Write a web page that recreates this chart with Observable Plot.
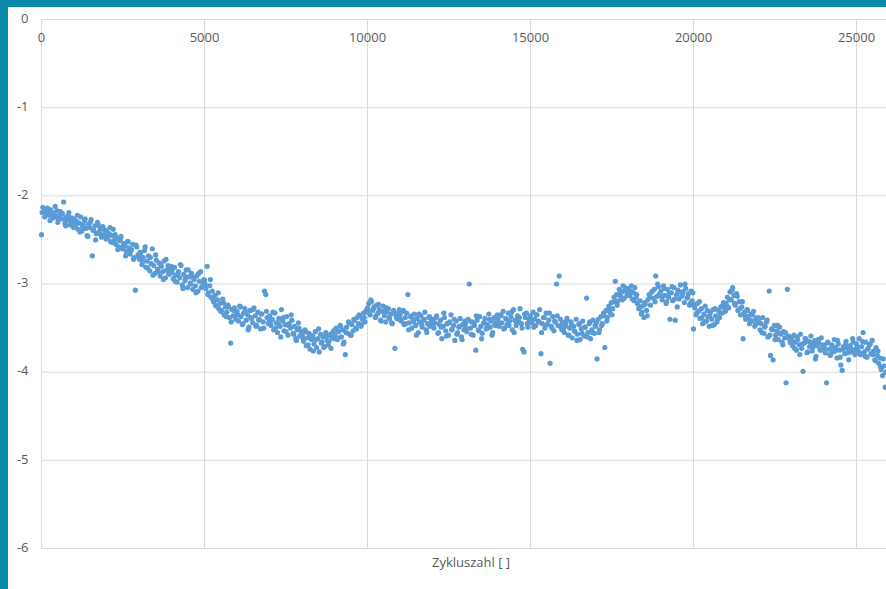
<!DOCTYPE html>
<html>
<head>
<meta charset="utf-8">
<script src="https://cdn.jsdelivr.net/npm/d3@7"></script>
<script src="https://cdn.jsdelivr.net/npm/@observablehq/plot@0.6"></script>
<style>
  html, body { margin: 0; padding: 0; overflow: hidden; background: #ffffff; }
  #wrap { position: relative; width: 886px; height: 589px; background: #ffffff; }
  #wrap svg { position: absolute; left: 0; top: 0; }
  .barTop { position: absolute; left: 0; top: 0; width: 886px; height: 7px; background: #0a8aa8; }
  .barLeft { position: absolute; left: 0; top: 0; width: 8px; height: 589px; background: #0a8aa8; }
</style>
</head>
<body>
<div id="wrap"></div>
<script>
// Sampling: block of 1000 cycles; main series every 40 cycles, second series every 80 cycles (offset 20)
const segmentLength = 1000;
const stepA = 40;
const stepB = 80;
const offsetB = 20;

const s00 = [-2.44,-2.13,-2.17,-2.15,-2.20,-2.18,-2.22,-2.16,-2.21,-2.25,-2.19,-2.23,-2.17,-2.27,-2.22,-2.26,-2.20,-2.07,-2.31,-2.24,-2.27,-2.19,-2.33,-2.25,-2.30];
const s01 = [-2.26,-2.35,-2.29,-2.38,-2.31,-2.24,-2.40,-2.33,-2.28,-2.37,-2.45,-2.32,-2.36,-2.27,-2.68,-2.39,-2.34,-2.43,-2.30,-2.41,-2.37,-2.47,-2.35,-2.44,-2.39];
const s02 = [-2.40,-2.47,-2.43,-2.52,-2.45,-2.38,-2.50,-2.55,-2.48,-2.58,-2.51,-2.46,-2.60,-2.54,-2.57,-2.63,-2.52,-2.59,-2.66,-2.61,-2.55,-2.70,-3.07,-2.58,-2.67];
const s03 = [-2.72,-2.66,-2.78,-2.70,-2.62,-2.81,-2.74,-2.68,-2.85,-2.77,-2.60,-2.79,-2.88,-2.73,-2.83,-2.76,-2.91,-2.80,-2.86,-2.74,-2.93,-2.84,-2.79,-2.89,-2.82];
const s04 = [-2.87,-2.94,-2.81,-2.90,-2.98,-2.86,-2.93,-2.79,-3.01,-2.89,-2.96,-2.84,-3.04,-2.92,-2.99,-2.88,-3.06,-2.95,-3.02,-2.91,-3.08,-2.97,-2.86,-3.03,-2.98];
const s05 = [-2.96,-3.05,-2.80,-3.10,-3.02,-3.15,-3.08,-3.20,-3.13,-3.25,-3.18,-3.28,-3.22,-3.30,-3.17,-3.35,-3.26,-3.32,-3.24,-3.38,-3.67,-3.29,-3.36,-3.27,-3.40];
const s06 = [-3.31,-3.42,-3.25,-3.37,-3.46,-3.33,-3.28,-3.41,-3.35,-3.49,-3.30,-3.39,-3.44,-3.27,-3.36,-3.47,-3.32,-3.40,-3.51,-3.34,-3.43,-3.08,-3.12,-3.38,-3.45];
const s07 = [-3.36,-3.47,-3.40,-3.52,-3.33,-3.44,-3.55,-3.39,-3.48,-3.29,-3.42,-3.53,-3.46,-3.37,-3.58,-3.45,-3.50,-3.41,-3.56,-3.48,-3.62,-3.52,-3.44,-3.59,-3.54];
const s08 = [-3.58,-3.65,-3.52,-3.70,-3.61,-3.56,-3.74,-3.63,-3.59,-3.68,-3.54,-3.72,-3.62,-3.77,-3.57,-3.66,-3.60,-3.71,-3.55,-3.64,-3.69,-3.58,-3.73,-3.61,-3.53];
const s09 = [-3.57,-3.50,-3.63,-3.54,-3.47,-3.60,-3.52,-3.66,-3.80,-3.49,-3.56,-3.44,-3.58,-3.46,-3.53,-3.41,-3.50,-3.38,-3.45,-3.36,-3.48,-3.40,-3.33,-3.43,-3.30];
const s10 = [-3.27,-3.22,-3.35,-3.20,-3.30,-3.26,-3.38,-3.24,-3.33,-3.29,-3.41,-3.31,-3.25,-3.36,-3.43,-3.32,-3.28,-3.39,-3.34,-3.45,-3.30,-3.73,-3.37,-3.33,-3.40];
const s11 = [-3.35,-3.42,-3.31,-3.46,-3.38,-3.33,-3.12,-3.44,-3.37,-3.50,-3.40,-3.34,-3.47,-3.39,-3.55,-3.43,-3.36,-3.49,-3.41,-3.32,-3.52,-3.45,-3.38,-3.48,-3.42];
const s12 = [-3.40,-3.50,-3.44,-3.36,-3.56,-3.46,-3.41,-3.62,-3.48,-3.38,-3.53,-3.45,-3.58,-3.43,-3.35,-3.51,-3.47,-3.64,-3.42,-3.55,-3.49,-3.39,-3.60,-3.46,-3.52];
const s13 = [-3.45,-3.54,-3.40,-3.00,-3.50,-3.43,-3.58,-3.47,-3.75,-3.41,-3.52,-3.37,-3.48,-3.56,-3.44,-3.39,-3.51,-3.46,-3.34,-3.49,-3.42,-3.55,-3.38,-3.47,-3.43];
const s14 = [-3.40,-3.48,-3.35,-3.44,-3.31,-3.50,-3.39,-3.46,-3.33,-3.42,-3.37,-3.52,-3.29,-3.41,-3.47,-3.36,-3.43,-3.28,-3.45,-3.74,-3.77,-3.38,-3.33,-3.49,-3.40];
const s15 = [-3.36,-3.44,-3.32,-3.40,-3.47,-3.35,-3.42,-3.29,-3.79,-3.45,-3.38,-3.50,-3.33,-3.46,-3.41,-3.90,-3.48,-3.37,-3.53,-3.43,-3.00,-3.47,-2.91,-3.40,-3.52];
const s16 = [-3.44,-3.55,-3.47,-3.39,-3.58,-3.50,-3.43,-3.61,-3.48,-3.54,-3.40,-3.57,-3.46,-3.63,-3.51,-3.42,-3.59,-3.49,-3.16,-3.55,-3.45,-3.62,-3.52,-3.41,-3.56];
const s17 = [-3.48,-3.85,-3.40,-3.52,-3.37,-3.45,-3.33,-3.72,-3.30,-3.38,-3.25,-3.33,-3.21,-3.28,-3.15,-2.97,-3.12,-3.19,-3.06,-3.14,-3.09,-3.02,-3.16,-3.07,-3.11];
const s18 = [-3.05,-3.13,-3.08,-3.17,-3.10,-3.04,-3.15,-3.22,-3.28,-3.19,-3.34,-3.25,-3.38,-3.23,-3.30,-3.18,-3.12,-3.24,-3.09,-3.16,-3.06,-2.91,-3.14,-3.03,-3.11];
const s19 = [-3.08,-3.18,-3.02,-3.13,-3.22,-3.06,-3.15,-3.40,-3.10,-3.19,-3.04,-3.41,-3.12,-3.07,-3.17,-3.01,-3.14,-3.09,-3.21,-3.05,-3.16,-3.11,-3.24,-3.08,-3.19];
const s20 = [-3.51,-3.27,-3.35,-3.22,-3.31,-3.39,-3.28,-3.45,-3.34,-3.25,-3.42,-3.37,-3.48,-3.32,-3.40,-3.29,-3.46,-3.36,-3.43,-3.30,-3.38,-3.26,-3.33,-3.21,-3.28];
const s21 = [-3.22,-3.15,-3.27,-3.09,-3.18,-3.04,-3.13,-3.24,-3.11,-3.30,-3.20,-3.35,-3.26,-3.62,-3.32,-3.40,-3.29,-3.37,-3.45,-3.34,-3.42,-3.31,-3.48,-3.39,-3.44];
const s22 = [-3.40,-3.52,-3.45,-3.38,-3.56,-3.48,-3.43,-3.60,-3.08,-3.81,-3.51,-3.86,-3.47,-3.58,-3.53,-3.63,-3.49,-3.57,-3.66,-3.54,-3.61,-4.12,-3.06,-3.59,-3.64];
const s23 = [-3.61,-3.70,-3.58,-3.66,-3.75,-3.63,-3.69,-3.57,-3.73,-3.99,-3.67,-3.62,-3.78,-3.65,-3.71,-3.59,-3.76,-3.68,-3.64,-3.82,-3.70,-3.66,-3.74,-3.61,-3.69];
const s24 = [-3.70,-3.78,-4.12,-3.66,-3.74,-3.81,-3.69,-3.77,-3.63,-3.72,-3.84,-3.68,-3.75,-3.92,-3.98,-3.71,-3.79,-3.65,-3.73,-3.86,-3.70,-3.77,-3.62,-3.75,-3.80];
const s25 = [-3.68,-3.75,-3.62,-3.80,-3.71,-3.55,-3.77,-3.66,-3.83,-3.73,-3.69,-3.79,-3.64,-3.76,-3.86,-3.72,-3.81,-3.90,-3.84,-3.97,-4.04,-3.93,-4.17];

// Series B (interleaved readings)
const u00 = [-2.19,-2.24,-2.14,-2.28,-2.21,-2.12,-2.30,-2.18,-2.26,-2.34,-2.22,-2.29,-2.36];
const u01 = [-2.32,-2.22,-2.41,-2.35,-2.26,-2.46,-2.30,-2.39,-2.50,-2.33,-2.44,-2.38,-2.49];
const u02 = [-2.46,-2.36,-2.53,-2.44,-2.61,-2.49,-2.57,-2.68,-2.52,-2.62,-2.72,-2.56,-2.69];
const u03 = [-2.64,-2.75,-2.58,-2.82,-2.70,-2.90,-2.67,-2.86,-2.78,-2.95,-2.72,-2.88,-2.80];
const u04 = [-2.83,-2.97,-2.89,-2.78,-3.05,-2.92,-2.84,-3.00,-2.93,-3.10,-2.88,-3.04,-2.95];
const u05 = [-3.00,-3.12,-2.95,-3.18,-3.24,-3.10,-3.31,-3.21,-3.37,-3.26,-3.43,-3.30,-3.35];
const u06 = [-3.35,-3.26,-3.45,-3.32,-3.52,-3.38,-3.29,-3.48,-3.41,-3.34,-3.50,-3.31,-3.42];
const u07 = [-3.43,-3.32,-3.50,-3.45,-3.60,-3.38,-3.54,-3.47,-3.35,-3.57,-3.64,-3.50,-3.58];
const u08 = [-3.62,-3.54,-3.69,-3.58,-3.76,-3.63,-3.51,-3.67,-3.72,-3.59,-3.65,-3.56,-3.62];
const u09 = [-3.52,-3.61,-3.48,-3.68,-3.55,-3.43,-3.58,-3.40,-3.51,-3.35,-3.46,-3.38,-3.32];
const u10 = [-3.30,-3.18,-3.28,-3.36,-3.23,-3.42,-3.31,-3.27,-3.38,-3.44,-3.33,-3.39,-3.29];
const u11 = [-3.40,-3.30,-3.45,-3.52,-3.36,-3.43,-3.58,-3.34,-3.46,-3.40,-3.55,-3.37,-3.44];
const u12 = [-3.45,-3.38,-3.55,-3.49,-3.33,-3.59,-3.44,-3.52,-3.40,-3.57,-3.48,-3.63,-3.42];
const u13 = [-3.50,-3.41,-3.57,-3.45,-3.36,-3.53,-3.62,-3.44,-3.50,-3.40,-3.58,-3.46,-3.35];
const u14 = [-3.44,-3.36,-3.51,-3.40,-3.47,-3.32,-3.55,-3.43,-3.38,-3.50,-3.34,-3.45,-3.41];
const u15 = [-3.41,-3.49,-3.35,-3.43,-3.55,-3.38,-3.46,-3.33,-3.50,-3.42,-3.36,-3.48,-3.44];
const u16 = [-3.50,-3.42,-3.58,-3.46,-3.53,-3.64,-3.45,-3.56,-3.49,-3.60,-3.43,-3.55,-3.47];
const u17 = [-3.44,-3.55,-3.47,-3.36,-3.42,-3.29,-3.35,-3.20,-3.24,-3.11,-3.18,-3.04,-3.13];
const u18 = [-3.10,-3.02,-3.19,-3.12,-3.26,-3.32,-3.21,-3.36,-3.15,-3.08,-3.20,-3.00,-3.13];
const u19 = [-3.14,-3.05,-3.20,-3.10,-3.03,-3.17,-3.26,-3.09,-3.12,-3.00,-3.15,-3.22,-3.10];
const u20 = [-3.24,-3.33,-3.20,-3.38,-3.43,-3.30,-3.36,-3.47,-3.28,-3.40,-3.33,-3.24,-3.31];
const u21 = [-3.25,-3.18,-3.07,-3.22,-3.14,-3.28,-3.20,-3.36,-3.30,-3.41,-3.35,-3.46,-3.38];
const u22 = [-3.44,-3.55,-3.49,-3.41,-3.58,-3.52,-3.63,-3.47,-3.56,-3.69,-3.55,-3.60,-3.67];
const u23 = [-3.64,-3.73,-3.60,-3.80,-3.68,-3.62,-3.77,-3.66,-3.72,-3.85,-3.63,-3.75,-3.70];
const u24 = [-3.73,-3.67,-3.80,-3.71,-3.76,-3.64,-3.83,-3.74,-3.69,-3.78,-3.72,-3.66,-3.74];
const u25 = [-3.71,-3.78,-3.65,-3.82,-3.74,-3.68,-3.80,-3.87,-3.76,-3.94,-3.85,-4.00];

const seriesA = [s00,s01,s02,s03,s04,s05,s06,s07,s08,s09,s10,s11,s12,s13,s14,s15,s16,s17,s18,s19,s20,s21,s22,s23,s24,s25];
const seriesB = [u00,u01,u02,u03,u04,u05,u06,u07,u08,u09,u10,u11,u12,u13,u14,u15,u16,u17,u18,u19,u20,u21,u22,u23,u24,u25];

// Axis ticks / labels
const xTicks = [0, 5000, 10000, 15000, 20000, 25000];
const yTicks = [0, -1, -2, -3, -4, -5, -6];
const xLabel = "Zykluszahl [ ]";

const data = [
  ...seriesA.flatMap((arr, k) => arr.map((v, i) => ({cycle: k * segmentLength + i * stepA, value: v}))),
  ...seriesB.flatMap((arr, k) => arr.map((v, i) => ({cycle: k * segmentLength + offsetB + i * stepB, value: v})))
];

const chart = Plot.plot({
  width: 886,
  height: 589,
  marginLeft: 41,
  marginTop: 19,
  marginRight: 0,
  marginBottom: 41,
  x: {domain: [0, 25920], axis: null},
  y: {domain: [-6, 0], axis: null},
  style: {fontFamily: "'Open Sans', sans-serif", fontSize: "13px", color: "#595959", background: "transparent"},
  marks: [
    Plot.gridX(xTicks, {stroke: "#d9d9d9", strokeOpacity: 1, strokeWidth: 1}),
    Plot.gridY(yTicks, {stroke: "#d9d9d9", strokeOpacity: 1, strokeWidth: 1}),
    Plot.dot(data, {x: "cycle", y: "value", r: 2.6, fill: "#5b9bd5", stroke: null}),
    Plot.text(xTicks, {x: d => d, frameAnchor: "top", dy: 18, text: d => String(d), lineAnchor: "middle", fill: "#595959", fontSize: 13}),
    Plot.text(yTicks, {y: d => d, frameAnchor: "left", dx: -13, dy: -1, text: d => String(d), textAnchor: "end", fill: "#595959", fontSize: 13}),
    Plot.text([xLabel], {frameAnchor: "bottom", dx: 7, dy: 14, text: d => d, lineAnchor: "middle", fill: "#595959", fontSize: 13})
  ]
});

const wrap = document.getElementById("wrap");
wrap.appendChild(chart);
const t = document.createElement("div"); t.className = "barTop"; wrap.appendChild(t);
const l = document.createElement("div"); l.className = "barLeft"; wrap.appendChild(l);
</script>
</body>
</html>
